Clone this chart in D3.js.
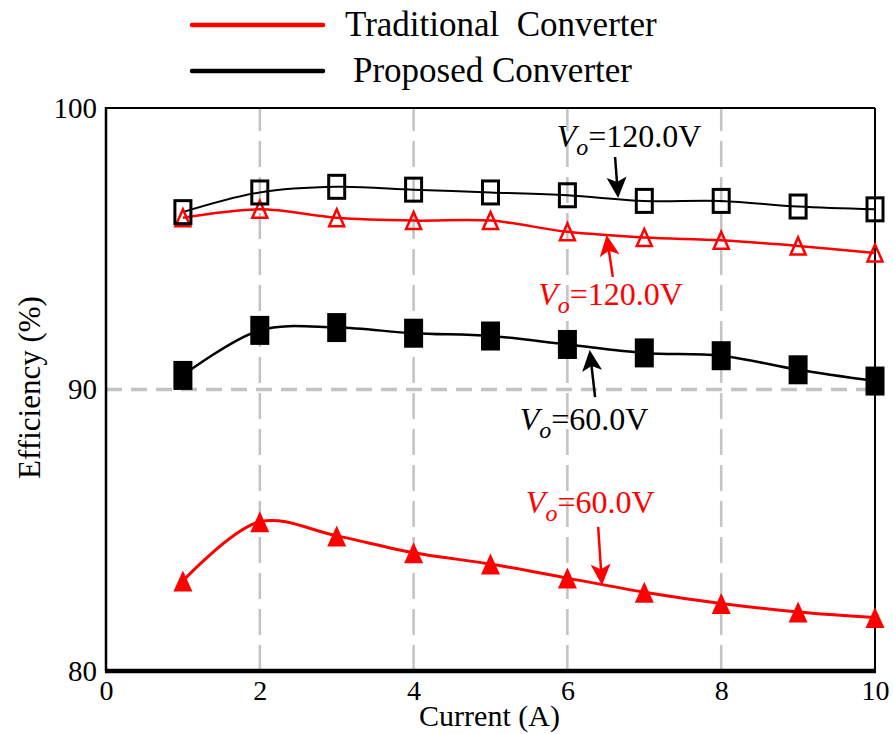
<!DOCTYPE html>
<html>
<head>
<meta charset="utf-8">
<script src="https://cdn.jsdelivr.net/npm/d3@7.9.0/dist/d3.min.js"></script>
<style>
  body { margin: 0; background: #fff; }
  svg, svg text { font-family: "Liberation Serif", "Times New Roman", serif; }
</style>
</head>
<body>
<svg id="chart" width="893" height="734"></svg>
<script>
// current (A)
const current = [1, 2, 3, 4, 5, 6, 7, 8, 9, 10];

// efficiency (%)
const proposed120 = [96.3, 97.0, 97.2, 97.1, 97.0, 96.9, 96.7, 96.7, 96.5, 96.4];
const traditional120 = [96.1, 96.4, 96.1, 96.0, 96.0, 95.6, 95.4, 95.3, 95.1, 94.85];
const proposed60 = [90.5, 92.1, 92.2, 92.0, 91.9, 91.6, 91.3, 91.2, 90.7, 90.3];
const traditional60 = [83.2, 85.3, 84.8, 84.2, 83.8, 83.3, 82.8, 82.4, 82.1, 81.9];

const xTicks = [0, 2, 4, 6, 8, 10];
const yTicks = [80, 90, 100];
const xGrid = [2, 4, 6, 8];
const yGrid = [90];

const legendItems = [
    { label: "Traditional\u00a0 Converter", color: "#ff0000" },
    { label: "Proposed Converter", color: "#000000" }
];

// annotations in data units: text start/baseline, arrow from -> to
const notes = [
    { text: "=120.0V", color: "#000", tx: 5.86, ty: 98.61, ax: [6.62, 98.26], bx: [6.66, 96.80] },
    { text: "=120.0V", color: "#ff0000", tx: 5.62, ty: 93.0, ax: [6.59, 94.0], bx: [6.51, 95.49] },
    { text: "=60.0V", color: "#000", tx: 5.38, ty: 88.56, ax: [6.36, 89.73], bx: [6.29, 91.40] },
    { text: "=60.0V", color: "#ff0000", tx: 5.46, ty: 85.61, ax: [6.40, 85.12], bx: [6.45, 83.05] }
];

const serif = "'Liberation Serif', 'Times New Roman', serif";
const svg = d3.select("#chart");
const plot = { left: 106, right: 875, top: 108, bottom: 671 };

const x = d3.scaleLinear().domain([0, 10]).range([plot.left, plot.right]);
const y = d3.scaleLinear().domain([80, 100]).range([plot.bottom, plot.top]);

// grid lines
svg.append("g").selectAll("line.vg")
    .data(xGrid).enter().append("line")
    .attr("x1", d => x(d)).attr("x2", d => x(d))
    .attr("y1", plot.bottom).attr("y2", plot.top)
    .attr("stroke", "#c3c3c3").attr("stroke-width", 2.5)
    .attr("stroke-dasharray", "26,10");
svg.append("g").selectAll("line.hg")
    .data(yGrid).enter().append("line")
    .attr("x1", plot.left).attr("x2", plot.right)
    .attr("y1", d => y(d)).attr("y2", d => y(d))
    .attr("stroke", "#c3c3c3").attr("stroke-width", 3.5)
    .attr("stroke-dasharray", "16,9");

// frame
svg.append("line").attr("x1", plot.left).attr("x2", plot.right)
    .attr("y1", plot.top).attr("y2", plot.top)
    .attr("stroke", "#000").attr("stroke-width", 2);
svg.append("line").attr("x1", plot.right).attr("x2", plot.right)
    .attr("y1", plot.top).attr("y2", plot.bottom)
    .attr("stroke", "#000").attr("stroke-width", 2);
svg.append("line").attr("x1", plot.left).attr("x2", plot.left)
    .attr("y1", plot.top - 1).attr("y2", plot.bottom)
    .attr("stroke", "#000").attr("stroke-width", 2.5);
svg.append("line").attr("x1", plot.left - 1).attr("x2", plot.right + 1)
    .attr("y1", plot.bottom).attr("y2", plot.bottom)
    .attr("stroke", "#000").attr("stroke-width", 4.5);

// axes (labels only)
const xAxis = svg.append("g")
    .attr("transform", `translate(0,${plot.bottom})`)
    .call(d3.axisBottom(x).tickValues(xTicks).tickSize(0).tickPadding(9));
const yAxis = svg.append("g")
    .attr("transform", `translate(${plot.left},0)`)
    .call(d3.axisLeft(y).tickValues(yTicks).tickSize(0).tickPadding(9));
[xAxis, yAxis].forEach(a => {
    a.attr("font-family", serif).attr("font-size", 28);
    a.select(".domain").remove();
    a.selectAll("text")
        .attr("font-family", serif)
        .style("font-family", serif)
        .style("font-size", "28px").attr("fill", "#000");
});
yAxis.selectAll("text").style("font-size", "29px");

svg.append("text")
    .attr("x", x(5) - 1).attr("y", 726)
    .attr("text-anchor", "middle")
    .attr("font-family", serif)
    .attr("font-size", 30)
    .text("Current (A)");
svg.append("text")
    .attr("transform", `translate(40,${(plot.top + plot.bottom) / 2 - 2}) rotate(-90)`)
    .attr("text-anchor", "middle")
    .attr("font-family", serif)
    .attr("font-size", 31)
    .text("Efficiency (%)");

// curves
const line = d3.line()
    .x((d, i) => x(current[i]))
    .y(d => y(d))
    .curve(d3.curveCatmullRom.alpha(0.5));

const series = [
    { values: traditional120, color: "#ff0000", width: 2.5, marker: "triOpen" },
    { values: traditional60, color: "#ff0000", width: 3, marker: "triFilled" },
    { values: proposed120, color: "#000", width: 2, marker: "sqOpen" },
    { values: proposed60, color: "#000", width: 2.5, marker: "sqFilled" }
];

series.forEach(s => {
    svg.append("path")
        .datum(s.values)
        .attr("fill", "none")
        .attr("stroke", s.color)
        .attr("stroke-width", s.width)
        .attr("d", line);
});

function triPath(w, h) {
    return `M0,${-h / 2}L${w / 2},${h / 2}L${-w / 2},${h / 2}Z`;
}

series.forEach(s => {
    const g = svg.append("g");
    const pts = g.selectAll("g").data(s.values).enter().append("g")
        .attr("transform", (d, i) => `translate(${x(current[i])},${y(d)})`);
    if (s.marker === "triOpen") {
        pts.append("path").attr("d", triPath(15, 17))
            .attr("fill", "none").attr("stroke", s.color).attr("stroke-width", 2.5);
    } else if (s.marker === "triFilled") {
        pts.append("path").attr("d", triPath(19, 21)).attr("fill", s.color);
    } else if (s.marker === "sqOpen") {
        pts.append("rect").attr("x", -8).attr("y", -11.5)
            .attr("width", 16).attr("height", 23)
            .attr("fill", "none").attr("stroke", s.color).attr("stroke-width", 3);
    } else {
        pts.append("rect").attr("x", -9.5).attr("y", -14.5)
            .attr("width", 19).attr("height", 29).attr("fill", s.color);
    }
});

// annotations
notes.forEach(n => {
    const t = svg.append("text")
        .attr("x", x(n.tx)).attr("y", y(n.ty))
        .attr("font-family", serif)
        .attr("font-size", 32).attr("fill", n.color);
    t.append("tspan").attr("font-style", "italic").text("V");
    t.append("tspan").attr("font-style", "italic").attr("font-size", 24)
        .attr("dy", 8).text("o");
    t.append("tspan").attr("dy", -8).text(n.text);

    const x0 = x(n.ax[0]), y0 = y(n.ax[1]);
    const x1 = x(n.bx[0]), y1 = y(n.bx[1]);
    const ang = Math.atan2(y1 - y0, x1 - x0) * 180 / Math.PI;
    const len = Math.hypot(x1 - x0, y1 - y0);
    const a = svg.append("g")
        .attr("transform", `translate(${x0},${y0}) rotate(${ang})`);
    a.append("line").attr("x1", 0).attr("y1", 0).attr("x2", len - 12).attr("y2", 0)
        .attr("stroke", n.color).attr("stroke-width", 2.5);
    a.append("path")
        .attr("d", `M${len},0L${len - 21},-10L${len - 16},0L${len - 21},10Z`)
        .attr("fill", n.color);
});

// legend
const legend = svg.append("g");
legendItems.forEach((item, i) => {
    const ly = 25 + i * 46;
    legend.append("line")
        .attr("x1", 192).attr("x2", 323)
        .attr("y1", ly).attr("y2", ly)
        .attr("stroke", item.color).attr("stroke-width", 4.5)
        .attr("stroke-linecap", "round");
    legend.append("text")
        .attr("x", i === 0 ? 345 : 353).attr("y", ly + 11)
        .attr("font-family", serif)
        .attr("font-size", 35).attr("fill", "#000")
        .text(item.label);
});
</script>
</body>
</html>
